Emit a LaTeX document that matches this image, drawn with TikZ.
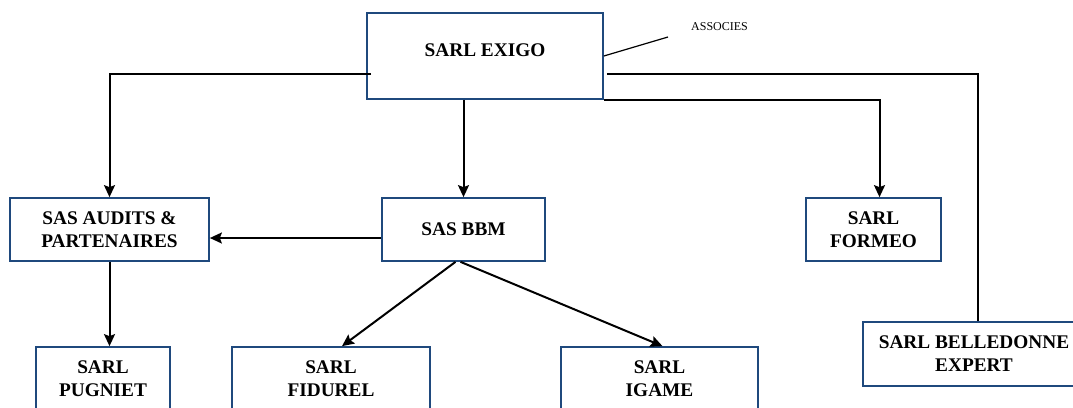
\documentclass[tikz,border=0pt]{standalone}
\usepackage{fontspec}
\setmainfont{Liberation Serif}
\usetikzlibrary{arrows.meta}
\definecolor{boxblue}{RGB}{31,73,125}
\begin{document}
\begin{tikzpicture}[x=1pt,y=-1pt,
    box/.style={draw=boxblue,line width=1.7pt,fill=white,align=center,
      font=\fontsize{19.3}{23}\selectfont\bfseries,minimum height=63pt,inner sep=0pt},
    link/.style={line width=2pt},
    thinlink/.style={line width=1.2pt},
    arr/.style={link,-{Stealth[length=12pt,width=11pt,inset=2pt]}}]
  \clip (0,0) rectangle (1073,407);
  \fill[white] (0,0) rectangle (1073,407);
  \node[box,minimum width=236pt,minimum height=86pt,text depth=12pt] (exigo) at (485,56)
    {SARL EXIGO};
  \node[box,minimum width=199pt] (audits) at (109.5,229.5) {SAS AUDITS \&\\PARTENAIRES};
  \node[box,minimum width=163pt] (bbm) at (463.5,229.5) {SAS BBM};
  \node[box,minimum width=135pt] (formeo) at (873.5,229.5) {SARL\\FORMEO};
  \node[box,minimum width=222pt,minimum height=64pt] (belle) at (974,354)
    {SARL BELLEDONNE\\EXPERT};
  \node[box,minimum width=134pt] (pugniet) at (103,378.5) {SARL\\PUGNIET};
  \node[box,minimum width=198pt] (fidurel) at (331,378.5) {SARL\\FIDUREL};
  \node[box,minimum width=197pt] (igame) at (659.5,378.5) {SARL\\IGAME};
  \node[anchor=south west,inner sep=0pt,font=\fontsize{12}{14}\selectfont] (assoc) at (691,31)
    {ASSOCIES};
  \coordinate (assocend) at (668,37);
  \coordinate (leftcorner) at (audits.north |- 0,74);
  \coordinate (rightcorner) at ([xshift=4pt]belle.north |- 0,74);
  \draw[thinlink] (exigo.east) -- (assocend);
  \draw[thinlink] ([xshift=5pt,yshift=-18pt]exigo.west) -- (leftcorner);
  \draw[arr] ([yshift=0.6pt]leftcorner) -- (audits.north);
  \draw[arr] (bbm.north |- exigo.south) -- (bbm.north);
  \draw[arr] (exigo.south east) -| ([xshift=6pt]formeo.north);
  \draw[thinlink] ([xshift=3pt,yshift=-18pt]exigo.east) -- (rightcorner);
  \draw[link] ([yshift=0.6pt]rightcorner) -- ([xshift=4pt]belle.north);
  \draw[arr] ([yshift=-8.5pt]bbm.west) -- ([yshift=-8.5pt]audits.east);
  \draw[arr] (audits.south) -- (audits.south |- pugniet.north);
  \draw[arr] ([xshift=-8pt]bbm.south) -- ([xshift=11pt]fidurel.north);
  \draw[arr] ([xshift=-3pt]bbm.south) -- ([xshift=3pt]igame.north);
\end{tikzpicture}
\end{document}
